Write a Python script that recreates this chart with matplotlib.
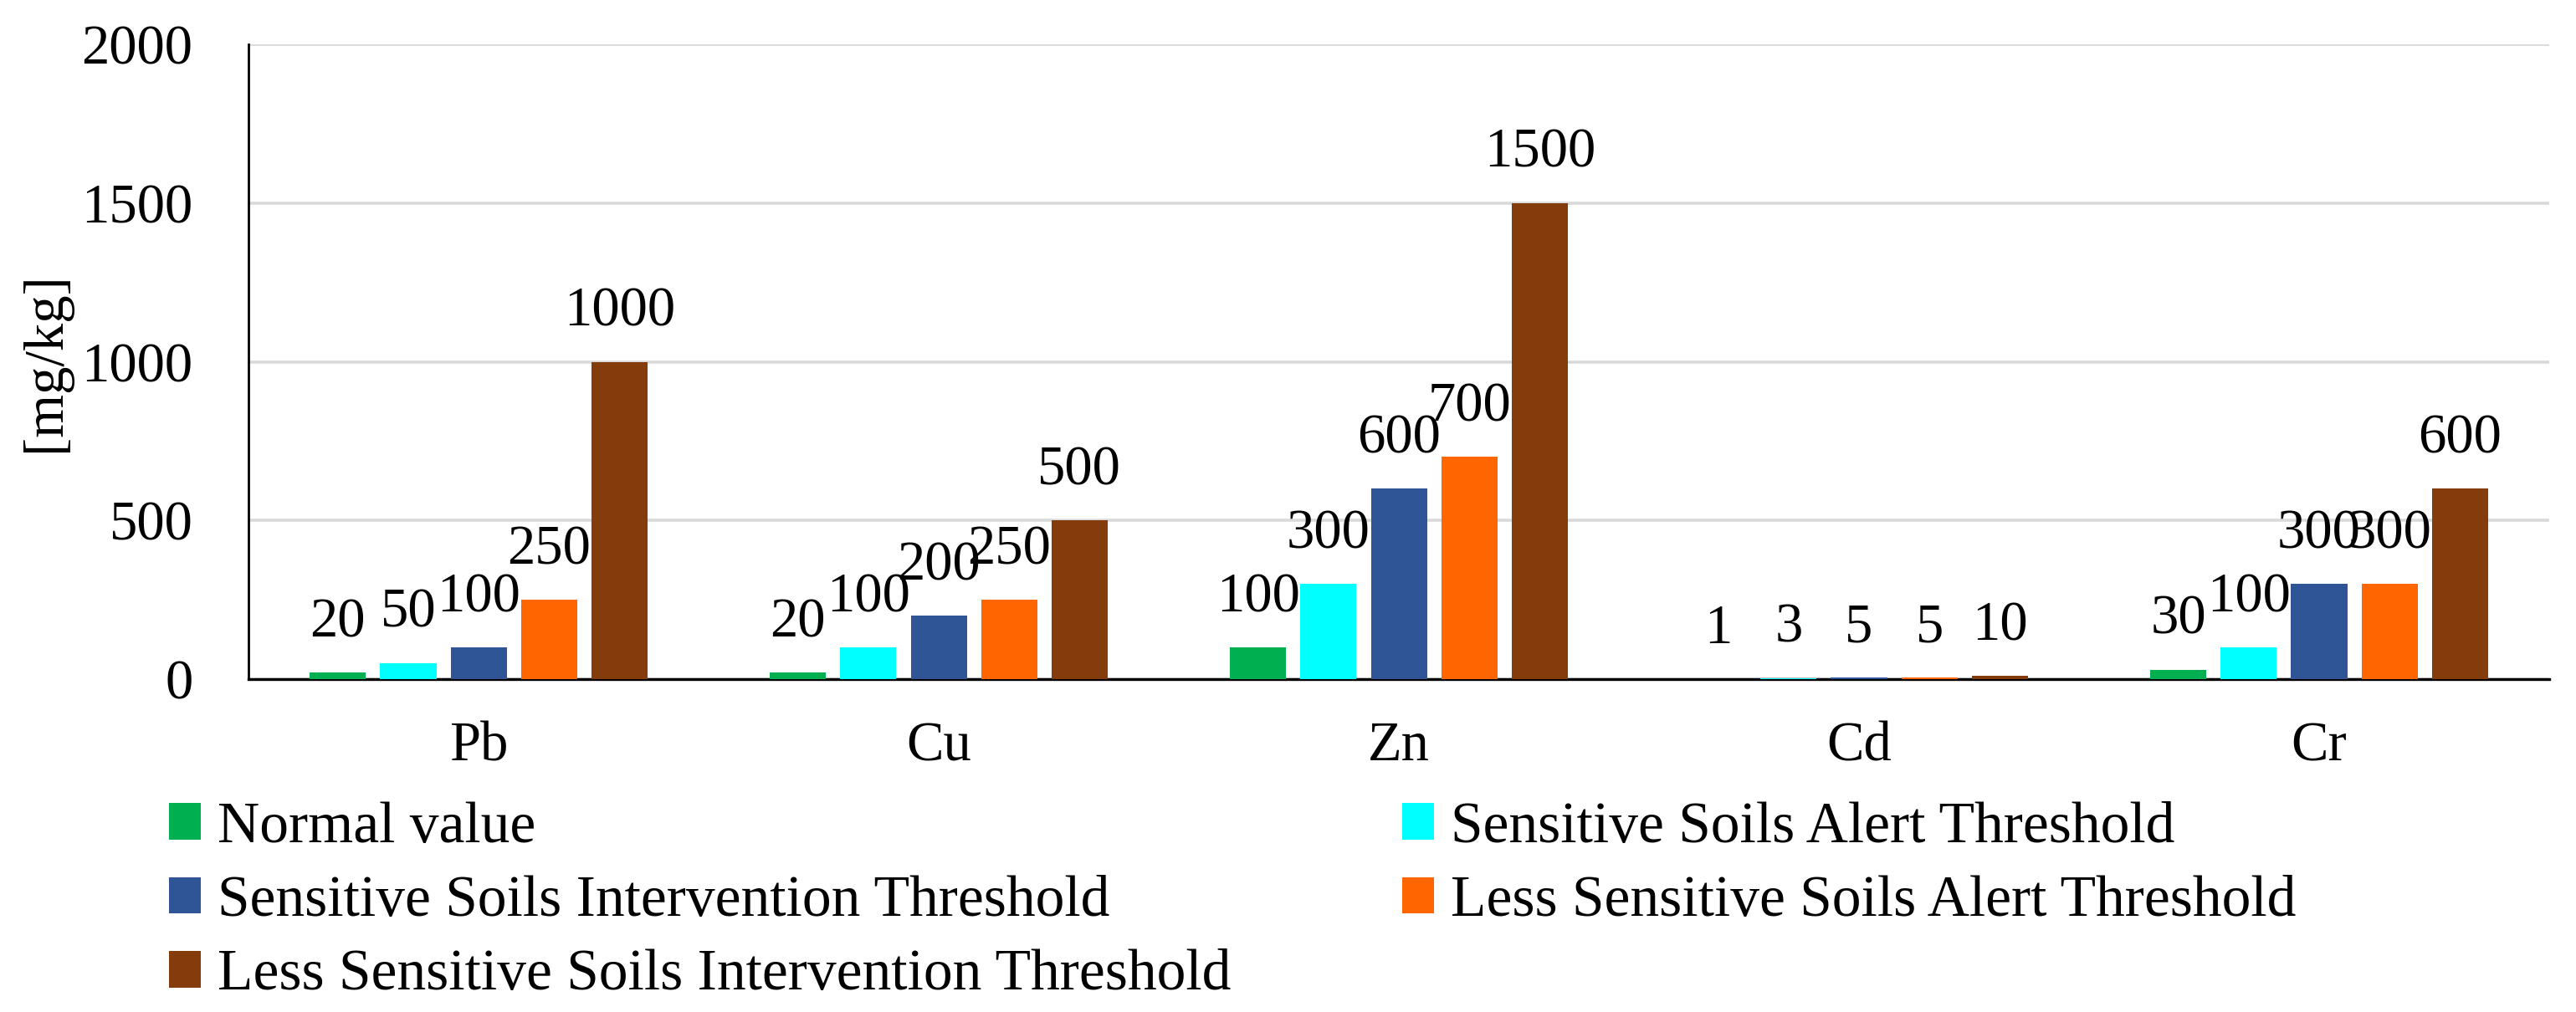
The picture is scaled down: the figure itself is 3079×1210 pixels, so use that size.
import numpy as np
import matplotlib
matplotlib.use("Agg")
import matplotlib.pyplot as plt

# data
elements = ["Pb", "Cu", "Zn", "Cd", "Cr"]
series_names = [
    "Normal value",
    "Sensitive Soils Alert Threshold",
    "Sensitive Soils Intervention Threshold",
    "Less Sensitive Soils Alert Threshold",
    "Less Sensitive Soils Intervention Threshold",
]
normal_value = [20, 20, 100, 1, 30]
sens_alert = [50, 100, 300, 3, 100]
sens_interv = [100, 200, 600, 5, 300]
less_alert = [250, 250, 700, 5, 300]
less_interv = [1000, 500, 1500, 10, 600]
series_values = [normal_value, sens_alert, sens_interv, less_alert, less_interv]
colors = ["#00B050", "#00FFFF", "#2F5597", "#FF6600", "#843C0C"]
y_ticks = [0, 500, 1000, 1500, 2000]

plt.rcParams['font.family'] = ['Liberation Serif', 'DejaVu Serif']
FS = 48

fig = plt.figure(figsize=(30.79, 12.10), dpi=100)
ax = fig.add_axes([0.0965, 0.3289, 0.8931, 0.6273])

x = np.arange(len(elements))
step = 0.153
width = 0.122
bars = []
for i, (name, vals, col) in enumerate(zip(series_names, series_values, colors)):
    b = ax.bar(x + (i - 2) * step, vals, width, color=col, label=name, zorder=3)
    bars.append(b)
    # data labels above each bar (overlaps are as in the original)
    for rect, v in zip(b, vals):
        ax.annotate(str(v), (rect.get_x() + rect.get_width() / 2, rect.get_height()),
                    xytext=(0, 31), textcoords='offset points',
                    ha='center', va='baseline', fontsize=FS, zorder=4)

ax.set_xlim(-0.5, len(elements) - 0.5)
ax.set_ylim(0, 2000)
ax.set_yticks(y_ticks)
ax.set_xticks(x)
ax.set_xticklabels(elements)
ax.tick_params(axis='both', length=0, labelsize=FS)
ax.tick_params(axis='y', pad=48)
ax.tick_params(axis='x', pad=36)
ax.grid(axis='y', color='#D9D9D9', linewidth=2.6, zorder=0)
ax.set_axisbelow(True)

for s in ['top', 'right']:
    ax.spines[s].set_visible(False)
ax.spines['left'].set_linewidth(2.0)
ax.spines['bottom'].set_linewidth(2.4)

ax.set_ylabel("[mg/kg]", fontsize=FS)
ax.yaxis.set_label_coords(-0.077, 0.5)

# legend: column-first order so rows read Normal|Alert, Interv|LessAlert, LessInterv
order = [0, 2, 4, 1, 3]
handles = [bars[i] for i in order]
labels = [series_names[i] for i in order]
fig.legend(handles, labels, ncol=2, loc='upper left',
           bbox_to_anchor=(202 / 3079, 1 - 958 / 1210),
           frameon=False, fontsize=FS + 2, borderpad=0, borderaxespad=0,
           handlelength=0.55, handleheight=0.58, handletextpad=0.29,
           labelspacing=0.36, columnspacing=2.94)

fig.savefig("out.png", dpi=100)
